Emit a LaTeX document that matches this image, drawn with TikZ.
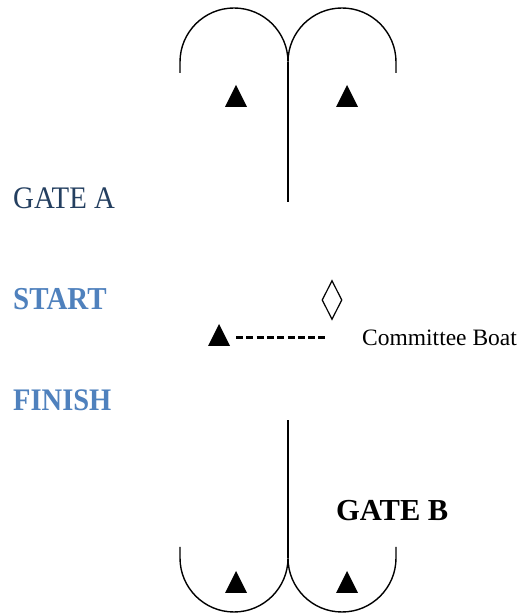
\documentclass[tikz,border=0pt]{standalone}
\usepackage{fontspec}
\setmainfont{Liberation Serif}
\usetikzlibrary{shapes.geometric}
\definecolor{darkhead}{HTML}{243F60}
\definecolor{lighthead}{HTML}{4F81BD}
\tikzset{
  course/.style={line width=1.4pt, line join=round},
  buoy/.style={fill=black},
  headlabel/.style={anchor=base west, inner sep=0pt, font=\fontsize{28}{30}\selectfont},
  boatmark/.style={draw, diamond, aspect=0.51, minimum width=20pt, minimum height=39pt, inner sep=0pt, line width=1.2pt},
  startline/.style={line width=3pt, dash pattern=on 7pt off 3.3pt}
}
\begin{document}
\begin{tikzpicture}[x=1pt,y=1pt]
\useasboundingbox (0,0) rectangle (525,614);
% top gate
\coordinate (tl) at (180,541);
\coordinate (tr) at (396,541);
\coordinate (tend) at (288,412);
\draw[course] (tl) -- ++(0,11) arc[start angle=180,end angle=0,radius=54] coordinate (tm)
  arc[start angle=180,end angle=0,radius=54] -- (tr);
\draw[course] (tm) -- (tend);
\fill[buoy] (225,507) -- (247,507) -- (236,529) -- cycle;
\fill[buoy] (336,507) -- (358,507) -- (347,529) -- cycle;
% bottom gate
\coordinate (bl) at (180,67);
\coordinate (br) at (396,67);
\coordinate (bstart) at (288,194);
\draw[course] (bl) -- ++(0,-11) arc[start angle=180,end angle=360,radius=54] coordinate (bm)
  arc[start angle=180,end angle=360,radius=54] -- (br);
\draw[course] (bm) -- (bstart);
\fill[buoy] (225,21) -- (247,21) -- (236,43) -- cycle;
\fill[buoy] (336,21) -- (358,21) -- (347,43) -- cycle;
% start line
\fill[buoy] (208,268) -- (230,268) -- (219,290) -- cycle;
\coordinate (pin) at (236,276);
\coordinate (lineend) at (328,276);
\draw[startline] (pin) -- (lineend);
\node[boatmark] (boat) at (332,314) {};
\node[anchor=base west, inner sep=0pt, font=\fontsize{23.5}{26}\selectfont] (cb) at (362,268) {Committee Boat};
% labels
\node[headlabel, text=darkhead] (gatea) at (13,405) {\scalebox{1.03}[1.12]{GATE A}};
\node[headlabel, text=lighthead, font=\fontsize{29}{31}\selectfont\bfseries] (start) at (13,304) {\scalebox{1}[1.1]{START}};
\node[headlabel, text=lighthead, font=\fontsize{28.5}{31}\selectfont\bfseries] (finish) at (13,203) {\scalebox{1}[1.1]{FINISH}};
\node[anchor=base west, inner sep=0pt, font=\fontsize{30.5}{32}\selectfont\bfseries] (gateb) at (336,93) {GATE B};
\end{tikzpicture}
\end{document}
